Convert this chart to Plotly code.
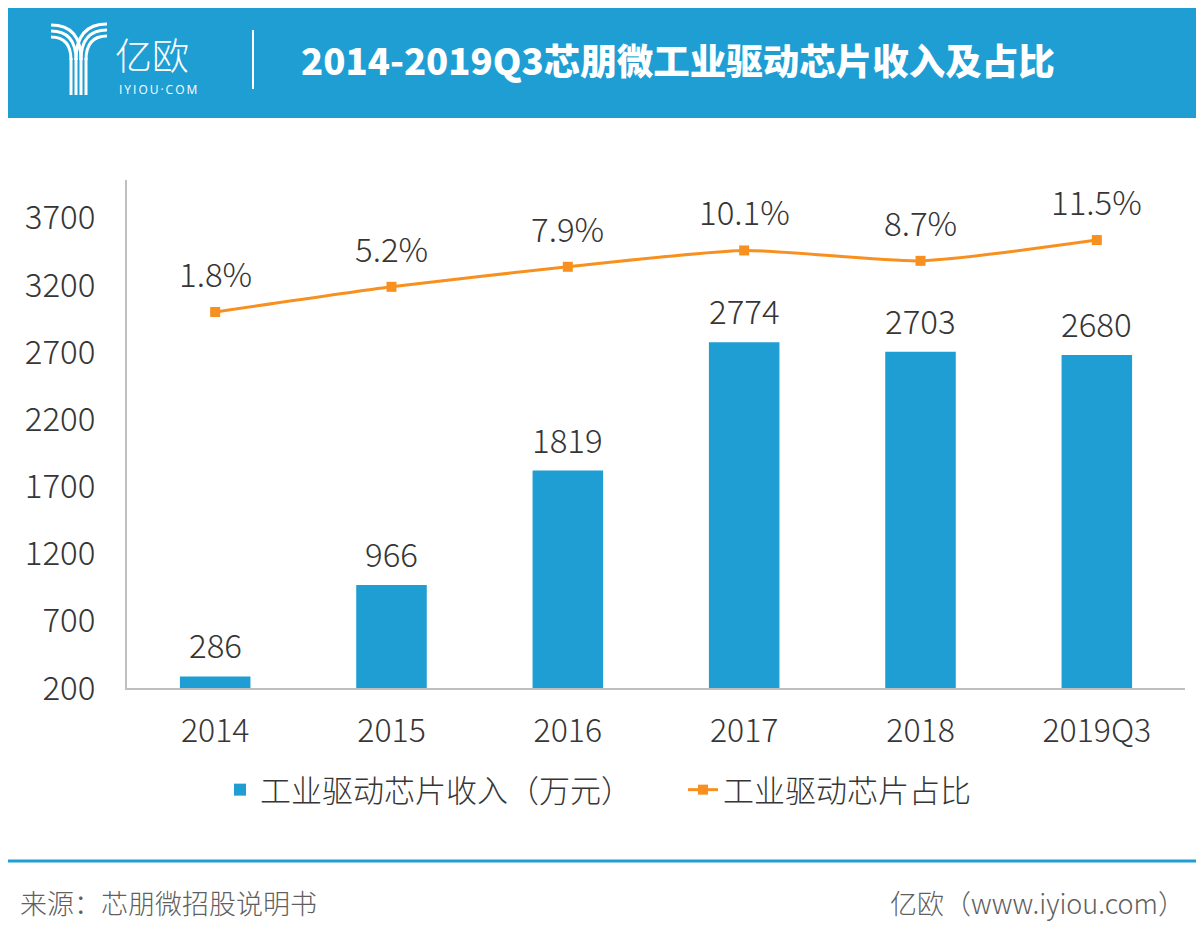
import plotly.graph_objects as go

categories = ["2014", "2015", "2016", "2017", "2018", "2019Q3"]
revenue = [286, 966, 1819, 2774, 2703, 2680]
share = [1.8, 5.2, 7.9, 10.1, 8.7, 11.5]
share_labels = ["1.8%", "5.2%", "7.9%", "10.1%", "8.7%", "11.5%"]
y_ticks = [200, 700, 1200, 1700, 2200, 2700, 3200, 3700]

OFF = 8  # page body margin
W, H = 1204 - 2 * OFF, 940 - 2 * OFF
# plot area in reference (page) pixels
L, R, T, B = 127, 1185, 180, 688
BLUE = "#1E9ED3"
ORANGE = "#F7901E"
TXT = "#363636"
FONT = "Noto Sans CJK SC"


def X(px):
    return (px - L) / (R - L)


def Y(py):
    return (B - py) / (B - T)


fig = go.Figure()
fig.add_trace(go.Bar(
    x=categories, y=revenue,
    name="工业驱动芯片收入（万元）",
    marker=dict(color=BLUE, line=dict(width=0)),
))
fig.add_trace(go.Scatter(
    x=categories, y=share, yaxis="y2",
    name="工业驱动芯片占比",
    mode="lines+markers",
    line=dict(color=ORANGE, width=3, shape="spline", smoothing=0.6),
    marker=dict(symbol="square", size=10, color=ORANGE),
))

num_font = dict(family=FONT, size=33, color=TXT, weight=300)
annotations = []
for i, v in enumerate(revenue):
    annotations.append(dict(x=i, y=v, xref="x", yref="y", text=str(v),
                            showarrow=False, yanchor="middle", yshift=32,
                            font=num_font))
for i, (v, t) in enumerate(zip(share, share_labels)):
    annotations.append(dict(x=i, y=v, xref="x", yref="y2", text=t,
                            showarrow=False, yanchor="middle", yshift=39,
                            font=num_font))

# header
annotations.append(dict(x=X(299), y=Y(60), xref="paper", yref="paper",
                        text="2014-2019Q3芯朋微工业驱动芯片收入及占比",
                        showarrow=False, xanchor="left", yanchor="middle",
                        font=dict(family=FONT, size=36.5, color="white", weight=900)))
annotations.append(dict(x=X(113), y=Y(54), xref="paper", yref="paper",
                        text="亿欧", showarrow=False, xanchor="left", yanchor="middle",
                        font=dict(family=FONT, size=37, color="white", weight=300)))
annotations.append(dict(x=X(117), y=Y(89), xref="paper", yref="paper",
                        text="I\u2009Y\u2009I\u2009O\u2009U\u2009·\u2009C\u2009O\u2009M",
                        showarrow=False, xanchor="left", yanchor="middle",
                        font=dict(family="Open Sans", size=12, color="white", weight=400)))
# footer
annotations.append(dict(x=X(18), y=Y(902), xref="paper", yref="paper",
                        text="来源：芯朋微招股说明书", showarrow=False,
                        xanchor="left", yanchor="middle",
                        font=dict(family=FONT, size=27, color="#5f5f5f", weight=300)))
annotations.append(dict(x=X(1187), y=Y(902), xref="paper", yref="paper",
                        text="亿欧（www.iyiou.com）", showarrow=False,
                        xanchor="right", yanchor="middle",
                        font=dict(family=FONT, size=27, color="#5f5f5f", weight=300)))

shapes = [
    dict(type="rect", xref="paper", yref="paper", x0=X(2), x1=X(1202), y0=Y(0), y1=Y(118),
         fillcolor=BLUE, line=dict(width=0), layer="below"),
    dict(type="line", xref="paper", yref="paper", x0=X(253), x1=X(253), y0=Y(30), y1=Y(89),
         line=dict(color="white", width=2)),
    dict(type="line", xref="paper", yref="paper", x0=X(2), x1=X(1202), y0=Y(861), y1=Y(861),
         line=dict(color=BLUE, width=3)),
]


def ppath(points_cmds):
    out = []
    for cmd, pts in points_cmds:
        coords = " ".join(f"{X(a):.5f},{Y(b):.5f}" for a, b in pts)
        out.append(f"{cmd}{coords}")
    return " ".join(out)


logo_line = dict(color="white", width=3)
for i in range(4):
    xs = 71 + 5 * i
    shapes.append(dict(type="line", xref="paper", yref="paper", x0=X(xs), x1=X(xs),
                       y0=Y(95), y1=Y(58), line=logo_line))
for i in range(3):
    y0 = 25 + 6 * i
    xe = 81 - 5 * i
    shapes.append(dict(type="path", xref="paper", yref="paper",
                       path=ppath([("M", [(51, y0)]), ("Q", [(xe, y0), (xe, 60)])]),
                       line=logo_line))
for i in range(3):
    y0 = 24 + 6 * i
    xe = 76 + 5 * i
    shapes.append(dict(type="path", xref="paper", yref="paper",
                       path=ppath([("M", [(107, y0)]), ("Q", [(xe, y0), (xe, 60)])]),
                       line=logo_line))

fig.update_layout(
    width=W, height=H,
    margin=dict(l=L - OFF, r=(W + OFF) - R, t=T - OFF, b=(H + OFF) - B, autoexpand=False),
    paper_bgcolor="white", plot_bgcolor="white",
    bargap=0.6,
    showlegend=True,
    legend=dict(orientation="h", x=X(220), xanchor="left", y=Y(790), yanchor="middle",
                font=dict(family=FONT, size=31, color=TXT, weight=300),
                entrywidth=418, entrywidthmode="pixels",
                bgcolor="rgba(0,0,0,0)", borderwidth=0),
    xaxis=dict(type="category", range=[-0.5, 5.5], showline=True, linecolor="#BFBFBF",
               linewidth=2, showgrid=False, ticks="", ticklabelstandoff=14,
               tickfont=dict(family=FONT, size=32, color=TXT, weight=300)),
    yaxis=dict(range=[200, 3982], tickvals=y_ticks, showline=True, linecolor="#BFBFBF",
               linewidth=2, showgrid=False, zeroline=False, ticks="", ticklabelstandoff=23,
               tickfont=dict(family=FONT, size=33, color=TXT, weight=300)),
    yaxis2=dict(range=[-48.9, 19.6], overlaying="y", side="right", visible=False),
    annotations=annotations,
    shapes=shapes,
)

fig.write_html("out.html")
